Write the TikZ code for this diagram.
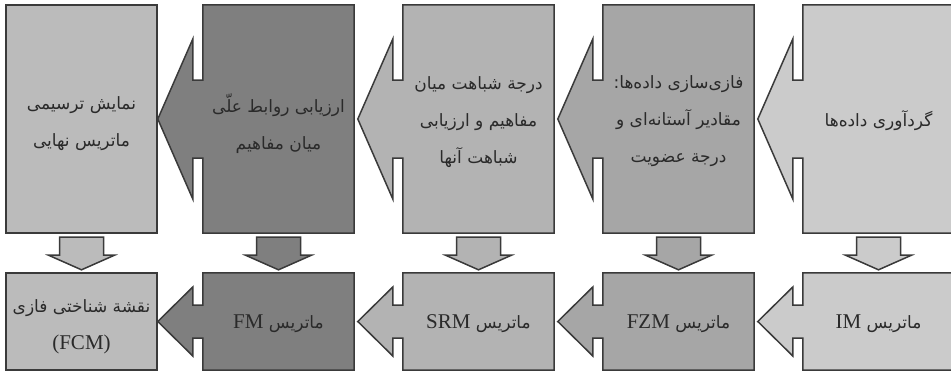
\documentclass[tikz,border=0pt]{standalone}
\usepackage{fontspec}
\setmainfont{Liberation Serif}
\newfontfamily\arabicfont[Script=Arabic]{DejaVu Sans}
\newfontfamily\latinfont{Liberation Serif}
\TeXXeTstate=1
\usetikzlibrary{backgrounds,calc}
\definecolor{cA}{HTML}{BBBBBB}
\definecolor{cB}{HTML}{7F7F7F}
\definecolor{cC}{HTML}{B3B3B3}
\definecolor{cD}{HTML}{A6A6A6}
\definecolor{cE}{HTML}{CBCBCB}
\definecolor{edge}{HTML}{3A3A3A}
\definecolor{txt}{HTML}{2A2A2A}
\tikzset{
  box/.style={rectangle, minimum width=151pt, inner sep=0pt},
  topbox/.style={box, minimum height=228pt},
  botbox/.style={box, minimum height=97pt},
  label/.style={inner sep=0pt, text=txt,
    font=\arabicfont\fontsize{17}{37}\selectfont, align=center},
  outline/.style={draw=edge, line width=1.5pt, line join=miter},
}
\newcommand\lat[1]{\beginL{\latinfont\fontsize{21}{37}\selectfont #1}\endL}
% arrow-box: node, fill, barb half height, notch half height
\newcommand\arrowbox[4]{%
  \filldraw[outline, fill=#2] (#1.north west) -- (#1.north east) -- (#1.south east) -- (#1.south west)
    -- ($(#1.west)+(0,#4)$) -- ($(#1.west)+(-10,#4)$) -- ($(#1.west)+(-10,#3)$)
    -- ($(#1.west)+(-45,0)$) -- ($(#1.west)+(-10,-#3)$) -- ($(#1.west)+(-10,-#4)$)
    -- ($(#1.west)+(0,-#4)$) -- cycle;}
% down arrow: from top node to bottom node
\newcommand\dnarrow[3]{%
  \filldraw[outline, fill=#3] ($(#1.south)+(-22,4)$) -- ($(#1.south)+(22,4)$)
    -- ($(#1.south)+(22,22)$) -- ($(#1.south)+(33,22)$) -- ($(#2.north)+(0,-3)$)
    -- ($(#1.south)+(-33,22)$) -- ($(#1.south)+(-22,22)$) -- cycle;}
\begin{document}
\begin{tikzpicture}[x=1pt,y=-1pt]
\useasboundingbox (0,0) rectangle (951,373);
% boxes
\node[topbox] (t1) at (81.5,119) {};
\node[topbox] (t2) at (278.5,119) {};
\node[topbox] (t3) at (478.5,119) {};
\node[topbox] (t4) at (678.5,119) {};
\node[topbox] (t5) at (878.5,119) {};
\node[botbox] (b1) at (81.5,321.5) {};
\node[botbox] (b2) at (278.5,321.5) {};
\node[botbox] (b3) at (478.5,321.5) {};
\node[botbox] (b4) at (678.5,321.5) {};
\node[botbox] (b5) at (878.5,321.5) {};
% shapes
\filldraw[outline, fill=cA] (t1.north west) rectangle (t1.south east);
\arrowbox{t2}{cB}{80}{39}
\arrowbox{t3}{cC}{80}{39}
\arrowbox{t4}{cD}{80}{39}
\arrowbox{t5}{cE}{80}{39}
\filldraw[outline, fill=cA] (b1.north west) rectangle (b1.south east);
\arrowbox{b2}{cB}{34.5}{16.5}
\arrowbox{b3}{cC}{34.5}{16.5}
\arrowbox{b4}{cD}{34.5}{16.5}
\arrowbox{b5}{cE}{34.5}{16.5}
\dnarrow{t1}{b1}{cA}
\dnarrow{t2}{b2}{cB}
\dnarrow{t3}{b3}{cC}
\dnarrow{t4}{b4}{cD}
\dnarrow{t5}{b5}{cE}
% texts
\node[label] (t1l) at ($(t1)+(0,5)$) {\beginR نمایش ترسیمی\endR\\\beginR ماتریس نهایی\endR};
\node[label] (t2l) at ($(t2)+(0,5)$) {\beginR ارزیابی روابط علّی\endR\\\beginR میان مفاهیم\endR};
\node[label] (t3l) at ($(t3)+(0,3)$) {\beginR درجة شباهت میان\endR\\\beginR مفاهیم و ارزیابی\endR\\\beginR شباهت آنها\endR};
\node[label] (t4l) at ($(t4)+(0,2)$) {\beginR فازی‌سازی داده‌ها:\endR\\\beginR مقادیر آستانه‌ای و\endR\\\beginR درجة عضویت\endR};
\node[label] (t5l) at ($(t5)+(0,2)$) {\beginR گردآوری داده‌ها\endR};
\node[label] (b1l) at ($(b1)+(0,5)$) {\beginR نقشة شناختی فازی\endR\\\lat{(FCM)}};
\node[label] (b2l) at ($(b2)+(0,2)$) {\beginR ماتریس \lat{FM}\endR};
\node[label] (b3l) at ($(b3)+(0,2)$) {\beginR ماتریس \lat{SRM}\endR};
\node[label] (b4l) at ($(b4)+(0,2)$) {\beginR ماتریس \lat{FZM}\endR};
\node[label] (b5l) at ($(b5)+(0,2)$) {\beginR ماتریس \lat{IM}\endR};
\end{tikzpicture}
\end{document}
